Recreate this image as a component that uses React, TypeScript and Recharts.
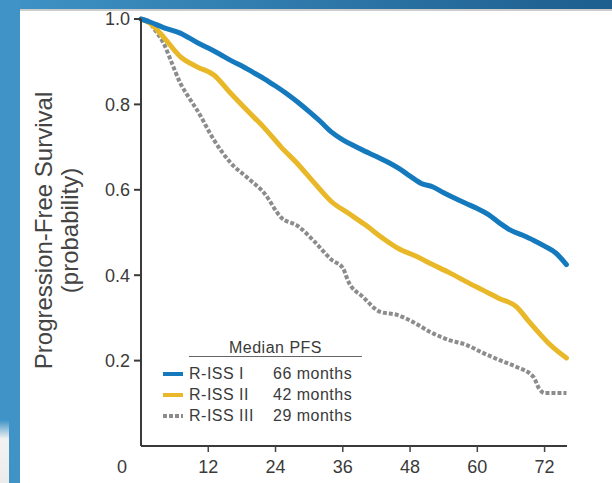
import { Label, Line, LineChart, XAxis, YAxis } from "recharts";

// Kaplan-Meier PFS by R-ISS stage (months, probability)
const issIMonths = [0, 1.6, 4, 7, 10, 12, 14, 16, 18, 20, 22, 24, 26, 28, 30, 32, 34, 36, 38, 40, 42, 44, 46, 48, 50, 52, 54, 56, 58, 60, 62, 64, 66, 68, 70, 72, 74, 75.9];
const issIPfs = [1.0, 0.993, 0.98, 0.967, 0.945, 0.932, 0.918, 0.903, 0.89, 0.875, 0.86, 0.843, 0.825, 0.805, 0.783, 0.76, 0.735, 0.717, 0.703, 0.69, 0.678, 0.665, 0.65, 0.632, 0.615, 0.607, 0.593, 0.58, 0.568, 0.556, 0.542, 0.522, 0.505, 0.494, 0.482, 0.468, 0.452, 0.425];

const issIIMonths = [0, 1.6, 4, 7, 10, 13, 16, 19, 22, 25, 28, 31, 34, 37, 40, 43, 46, 49, 52, 55, 58, 61, 64, 67, 69, 71, 73, 75.9];
const issIIPfs = [1.0, 0.99, 0.958, 0.912, 0.888, 0.869, 0.826, 0.785, 0.745, 0.7, 0.66, 0.615, 0.572, 0.545, 0.518, 0.488, 0.462, 0.445, 0.425, 0.406, 0.385, 0.365, 0.345, 0.326, 0.295, 0.265, 0.237, 0.206];

const issIIIMonths = [0, 1, 2.5, 4, 5.5, 7, 8.5, 10, 13, 16, 19, 22, 25, 28, 31, 34, 36, 37, 39.6, 42.7, 45.7, 48.6, 51.6, 55, 58, 61, 64, 67, 70, 71, 72, 75.9];
const issIIIPfs = [1.0, 0.998, 0.974, 0.944, 0.897, 0.85, 0.817, 0.787, 0.717, 0.663, 0.628, 0.592, 0.535, 0.515, 0.478, 0.436, 0.417, 0.385, 0.349, 0.314, 0.307, 0.29, 0.267, 0.248, 0.237, 0.218, 0.201, 0.185, 0.162, 0.135, 0.124, 0.124];

const xTicks = [0, 12, 24, 36, 48, 60, 72];
const yTicks = [0.2, 0.4, 0.6, 0.8, 1.0];

const legendRows = [
  { name: "R-ISS I", median: "66 months", color: "#1479bd", dashed: false },
  { name: "R-ISS II", median: "42 months", color: "#e8b829", dashed: false },
  { name: "R-ISS III", median: "29 months", color: "#8c8c8c", dashed: true }
];

const toPoints = (months: number[], pfs: number[]) => months.map((m, i) => ({ month: m, pfs: pfs[i] }));

const FONT = "'Liberation Sans', Arial, Helvetica, sans-serif";
const INK = "#3a3a3a";

function XTick({ x, y, payload }: any) {
  const v = payload.value;
  if (v === 0) {
    return (
      <text x={x - 19} y={y + 27} textAnchor="middle" fontSize={18} fill={INK} fontFamily={FONT}>
        0
      </text>
    );
  }
  return (
    <g>
      <line x1={x} x2={x} y1={y} y2={y + 6} stroke="#444" strokeWidth={1.5} />
      <text x={x} y={y + 27} textAnchor="middle" fontSize={18} fill={INK} fontFamily={FONT}>
        {v}
      </text>
    </g>
  );
}

function YTitle({ viewBox }: any) {
  const cy = viewBox.y + viewBox.height / 2 - 2;
  return (
    <g fontFamily={FONT} fontSize={24} fill="#444">
      <text x={52} y={cy} textAnchor="middle" transform={`rotate(-90 52 ${cy})`}>
        Progression-Free Survival
      </text>
      <text x={78} y={cy} textAnchor="middle" transform={`rotate(-90 78 ${cy})`}>
        (probability)
      </text>
    </g>
  );
}

function LegendBox() {
  return (
    <div style={{ position: "absolute", left: 163, top: 340, fontFamily: FONT, fontSize: 16, letterSpacing: 0.5, color: INK }}>
      <div style={{ marginLeft: 26, width: 173, textAlign: "center", borderBottom: "1.5px solid #666", lineHeight: "16px" }}>
        Median PFS
      </div>
      {legendRows.map((r, i) => (
        <div key={r.name} style={{ display: "flex", alignItems: "center", height: 21, marginTop: i === 0 ? 6 : 0 }}>
          <svg width={20} height={8} style={{ marginRight: 6 }}>
            <line
              x1={0}
              x2={20}
              y1={4}
              y2={4}
              stroke={r.color}
              strokeWidth={4}
              strokeDasharray={r.dashed ? "4 2" : undefined}
            />
          </svg>
          <span style={{ width: 84 }}>{r.name}</span>
          <span>{r.median}</span>
        </div>
      ))}
    </div>
  );
}

export default function App() {
  return (
    <div style={{ position: "absolute", left: 0, top: 0, width: 612, height: 483, background: "#fff", overflow: "hidden" }}>
      <LineChart width={612} height={483} margin={{ top: 19, right: 45, bottom: 7, left: 0 }}>
        <XAxis
          type="number"
          dataKey="month"
          domain={[0, 76]}
          ticks={xTicks}
          tickLine={false}
          tickSize={0}
          tickMargin={0}
          tick={<XTick />}
          height={30}
          stroke="#3a3a3a"
          strokeWidth={2}
          allowDuplicatedCategory={false}
        />
        <YAxis
          type="number"
          domain={[0, 1]}
          ticks={yTicks}
          width={141}
          tickSize={7}
          tickMargin={4}
          tickFormatter={(v: number) => v.toFixed(1)}
          tick={{ fontSize: 18, fill: INK, fontFamily: FONT }}
          stroke="#3a3a3a"
          strokeWidth={2}
        >
          <Label content={<YTitle />} />
        </YAxis>
        <Line
          data={toPoints(issIIIMonths, issIIIPfs)}
          dataKey="pfs"
          type="monotone"
          stroke="#8c8c8c"
          strokeWidth={4}
          strokeDasharray="4 2"
          dot={false}
          isAnimationActive={false}
        />
        <Line
          data={toPoints(issIIMonths, issIIPfs)}
          dataKey="pfs"
          type="monotone"
          stroke="#e8b829"
          strokeWidth={5}
          strokeLinecap="round"
          dot={false}
          isAnimationActive={false}
        />
        <Line
          data={toPoints(issIMonths, issIPfs)}
          dataKey="pfs"
          type="monotone"
          stroke="#1479bd"
          strokeWidth={5}
          strokeLinecap="round"
          dot={false}
          isAnimationActive={false}
        />
      </LineChart>
      <LegendBox />
      {/* slide frame */}
      <div style={{ position: "absolute", left: 0, top: 0, width: 612, height: 9, background: "linear-gradient(90deg, #3f93c6, #1d5e8e)" }} />
      <div style={{ position: "absolute", left: 0, top: 9, width: 612, height: 2, background: "#9a9a9a", opacity: 0.5 }} />
      <div style={{ position: "absolute", left: 0, top: 0, width: 20, height: 483, background: "#3f93c6" }} />
      <div style={{ position: "absolute", left: 0, top: 420, width: 9, height: 63, background: "linear-gradient(180deg, #3f93c6, #f2f2f2 30%, #ececec)" }} />
    </div>
  );
}
